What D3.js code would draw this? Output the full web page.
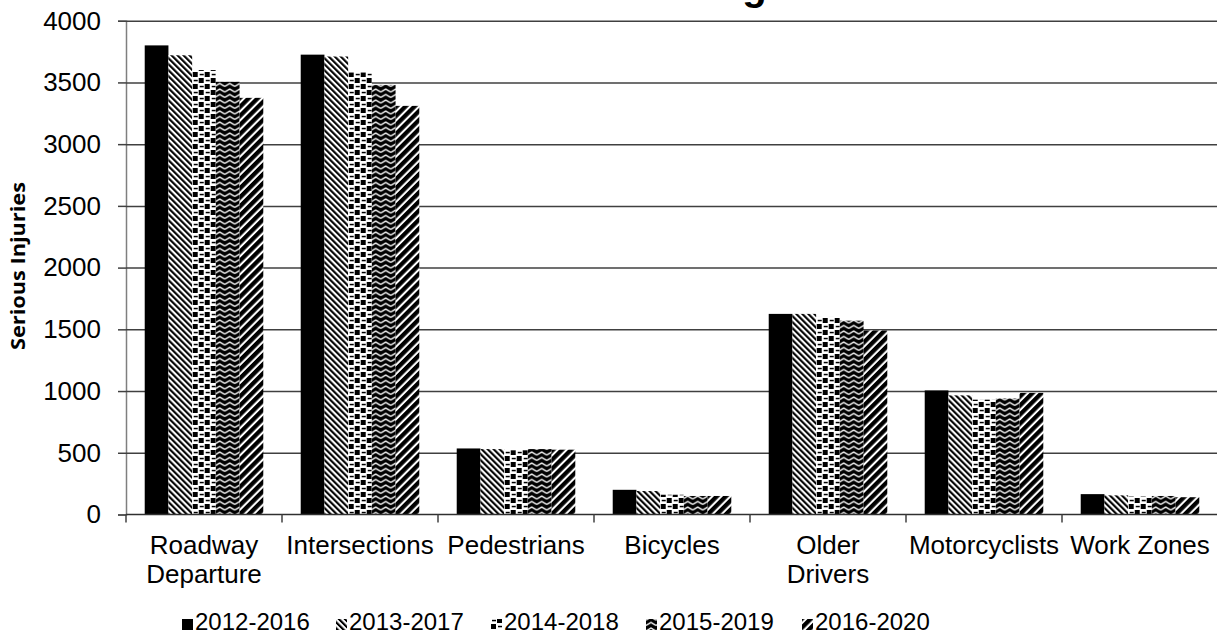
<!DOCTYPE html>
<html>
<head>
<meta charset="utf-8">
<script src="https://cdn.jsdelivr.net/npm/d3@7"></script>
<style>
  body { margin: 0; background: #fff; }
  svg { display: block; }
</style>
</head>
<body>
<svg id="chart" width="1217" height="644"></svg>
<script>
// Serious injuries by emphasis area, five-year rolling periods
const categories = ["Roadway Departure", "Intersections", "Pedestrians", "Bicycles", "Older Drivers", "Motorcyclists", "Work Zones"];
const categoryLines = [["Roadway", "Departure"], ["Intersections"], ["Pedestrians"], ["Bicycles"], ["Older", "Drivers"], ["Motorcyclists"], ["Work Zones"]];
const periods = ["2012-2016", "2013-2017", "2014-2018", "2015-2019", "2016-2020"];

const s2012_2016 = [3800, 3725, 535, 200, 1625, 1005, 165];
const s2013_2017 = [3720, 3710, 530, 190, 1625, 965, 155];
const s2014_2018 = [3600, 3580, 520, 160, 1600, 930, 145];
const s2015_2019 = [3505, 3480, 530, 150, 1570, 940, 150];
const s2016_2020 = [3375, 3310, 525, 150, 1490, 985, 140];
const seriesValues = [s2012_2016, s2013_2017, s2014_2018, s2015_2019, s2016_2020];

const yTicks = [0, 500, 1000, 1500, 2000, 2500, 3000, 3500, 4000];
const titleText = "Five-Year Average";
const yAxisTitle = "Serious Injuries";

const svg = d3.select("#chart");
const W = 1217, H = 644;
const plot = { left: 126, right: 1218, top: 20.7, bottom: 514.5 };

// ---- fill patterns (monochrome hatches) ----
const defs = svg.append("defs");

// dark downward diagonal
const pDn = defs.append("pattern").attr("id", "pat1").attr("patternUnits", "userSpaceOnUse")
  .attr("width", 4.24).attr("height", 4.24).attr("patternTransform", "rotate(-45)");
pDn.append("rect").attr("width", 4.24).attr("height", 4.24).attr("fill", "#fff");
pDn.append("rect").attr("width", 2.12).attr("height", 4.24).attr("fill", "#000");

// squares and dashes
const pCk = defs.append("pattern").attr("id", "pat2").attr("patternUnits", "userSpaceOnUse")
  .attr("width", 12).attr("height", 12);
pCk.append("rect").attr("width", 12).attr("height", 12).attr("fill", "#fff");
[[0, 0, 5, 5], [6, 6, 5, 5], [7, 1.8, 4, 1.5], [1, 7.8, 4, 1.5]].forEach(r => {
  pCk.append("rect").attr("x", r[0]).attr("y", r[1]).attr("width", r[2]).attr("height", r[3]).attr("fill", "#000");
});

// zigzag
const pZz = defs.append("pattern").attr("id", "pat3").attr("patternUnits", "userSpaceOnUse")
  .attr("width", 10).attr("height", 5.5);
pZz.append("rect").attr("width", 10).attr("height", 5.5).attr("fill", "#000");
[-5.5, 0, 5.5].forEach(dy => {
  pZz.append("path").attr("d", `M0,${4 + dy} L5,${1 + dy} L10,${4 + dy}`)
    .attr("fill", "none").attr("stroke", "#fff").attr("stroke-width", 1.4);
});

// wide upward diagonal
const pUp = defs.append("pattern").attr("id", "pat4").attr("patternUnits", "userSpaceOnUse")
  .attr("width", 6.4).attr("height", 6.4).attr("patternTransform", "rotate(45)");
pUp.append("rect").attr("width", 6.4).attr("height", 6.4).attr("fill", "#fff");
pUp.append("rect").attr("width", 4.3).attr("height", 6.4).attr("fill", "#000");

const fills = ["#000", "url(#pat1)", "url(#pat2)", "url(#pat3)", "url(#pat4)"];

// ---- scales ----
const x0 = d3.scaleBand().domain(categories).range([plot.left, plot.right])
  .paddingInner(0.24).paddingOuter(0.12);
const x1 = d3.scaleBand().domain(periods).range([0, x0.bandwidth()]);
const y = d3.scaleLinear().domain([0, 4000]).range([plot.bottom, plot.top]);

// ---- title (sits mostly above the visible area) ----
svg.append("text").attr("x", 617).attr("y", 0)
  .attr("text-anchor", "middle")
  .attr("font-family", "Liberation Sans, Arial, sans-serif")
  .attr("font-weight", "bold").attr("font-size", 40)
  .text(titleText);

// ---- gridlines + y axis ----
const yAxis = d3.axisLeft(y).tickValues(yTicks).tickSize(8).tickPadding(17).tickFormat(d3.format("d"));
const yG = svg.append("g").attr("transform", `translate(${plot.left},0)`).call(yAxis);
yG.select(".domain").attr("stroke", "#7f7f7f").attr("stroke-width", 1.5);
yG.selectAll(".tick line").attr("stroke", "#404040").attr("stroke-width", 1.5);
yG.selectAll(".tick text").attr("font-family", "Liberation Sans, Arial, sans-serif")
  .attr("font-size", 26).attr("fill", "#000");

const grid = d3.axisLeft(y).tickValues(yTicks.filter(d => d > 0)).tickSize(-(W - plot.left)).tickFormat("");
const gG = svg.append("g").attr("transform", `translate(${plot.left},0)`).call(grid);
gG.select(".domain").remove();
gG.selectAll(".tick line").attr("stroke", "#404040").attr("stroke-width", 1.5);

// ---- bars ----
const groups = svg.append("g").selectAll("g").data(categories).join("g")
  .attr("transform", d => `translate(${x0(d)},0)`);
groups.selectAll("rect")
  .data((c, ci) => periods.map((p, si) => ({ p, si, v: seriesValues[si][ci] })))
  .join("rect")
  .attr("x", d => x1(d.p))
  .attr("y", d => y(d.v))
  .attr("width", x1.bandwidth())
  .attr("height", d => y(0) - y(d.v))
  .attr("fill", d => fills[d.si]);

// ---- x axis baseline and category separators ----
const step = x0.step();
const boundaries = d3.range(categories.length + 1).map(i => plot.left + i * step);
svg.append("line").attr("x1", plot.left).attr("x2", W).attr("y1", y(0)).attr("y2", y(0))
  .attr("stroke", "#303030").attr("stroke-width", 1.5);
svg.append("g").selectAll("line").data(boundaries).join("line")
  .attr("x1", d => d).attr("x2", d => d)
  .attr("y1", y(0)).attr("y2", y(0) + 8)
  .attr("stroke", "#404040").attr("stroke-width", 1.5);

// ---- category labels ----
const catLabels = svg.append("g").selectAll("text").data(categories).join("text")
  .attr("x", d => x0(d) + x0.bandwidth() / 2)
  .attr("y", 554)
  .attr("text-anchor", "middle")
  .attr("font-family", "Liberation Sans, Arial, sans-serif")
  .attr("font-size", 26).attr("fill", "#000");
catLabels.each(function (d, i) {
  d3.select(this).selectAll("tspan").data(categoryLines[i]).join("tspan")
    .attr("x", x0(d) + x0.bandwidth() / 2)
    .attr("dy", (t, k) => k === 0 ? 0 : 28.5)
    .text(t => t);
});

// ---- y axis title ----
svg.append("text")
  .attr("transform", "translate(25,266) rotate(-90)")
  .attr("text-anchor", "middle")
  .attr("font-family", "Open Sans, sans-serif")
  .attr("font-weight", "bold").attr("font-size", 20)
  .attr("textLength", 168).attr("lengthAdjust", "spacingAndGlyphs")
  .text(yAxisTitle);

// ---- legend ----
const legendX = [182, 336, 491, 646, 802];
const leg = svg.append("g").selectAll("g").data(periods).join("g")
  .attr("transform", (d, i) => `translate(${legendX[i]},0)`);
leg.append("rect").attr("x", 0).attr("y", 619).attr("width", 11).attr("height", 11)
  .attr("fill", (d, i) => fills[i]);
leg.append("text").attr("x", 13).attr("y", 630)
  .attr("font-family", "Liberation Sans, Arial, sans-serif")
  .attr("font-size", 24).attr("fill", "#000")
  .text(d => d);
</script>
</body>
</html>
